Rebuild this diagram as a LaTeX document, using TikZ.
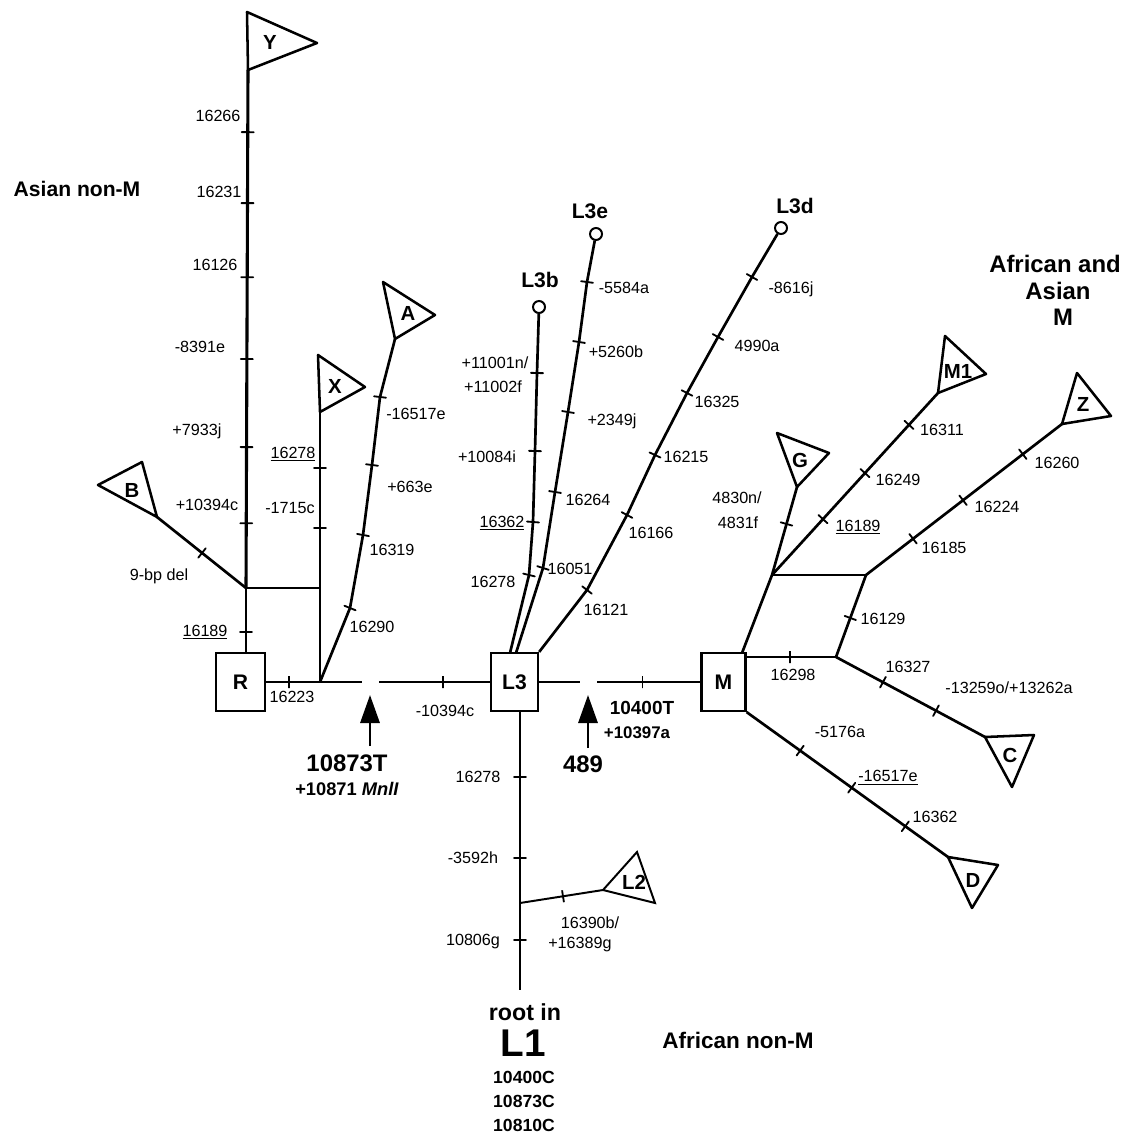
\documentclass[tikz,border=0pt]{standalone}
\usepackage{fontspec}
\setmainfont{Liberation Sans}
\usetikzlibrary{arrows.meta}
\newcommand{\myfs}[1]{\fontsize{#1}{#1}\selectfont}
\begin{document}
\begin{tikzpicture}[x=0.025cm,y=-0.025cm,
  br/.style={line width=1.9pt, line join=round},
  trunk/.style={line width=1.4pt},
  tk/.style={sloped, draw, line width=1.3pt, shape=rectangle, inner sep=0pt, outer sep=0pt, minimum width=0pt, minimum height=0.3cm},
  lab/.style={font=\myfs{11.5}, inner sep=0pt, text depth=0pt},
  box/.style={draw, line width=1.5pt, minimum height=1.45cm, inner sep=0pt, font=\bfseries\myfs{15}},
  tri/.style={line width=1.8pt, line join=round},
  tlab/.style={font=\bfseries\myfs{14.5}, inner sep=0pt, text depth=0pt},
  hlab/.style={font=\bfseries\myfs{15}, inner sep=0pt, text depth=0pt},
  blab/.style={font=\bfseries\myfs{17}, inner sep=0pt, text depth=0pt},
  arr/.style={line width=1.8pt, -{Triangle[length=0.7cm,width=0.48cm]}},
  leaf/.style={circle, draw, line width=1.4pt, minimum size=0.3cm, inner sep=0pt},
]
\useasboundingbox (0,0) rectangle (1134,1136);
\fill[white] (0,0) rectangle (1134,1136);

% ---------- boxes ----------
\node[box, minimum width=1.22cm] (R) at (240.5,682) {R};
\node[box, minimum width=1.18cm] (L3) at (514.5,682) {L3};
\node[box, minimum width=1.1cm] (M) at (723.5,682) {M};

% ---------- coordinates ----------
\coordinate (Rtop) at (246,653);
\coordinate (Jy) at (246,588);
\coordinate (Yb) at (248,70);
\coordinate (Jx) at (320,682);
\coordinate (Jxy) at (320,588);
\coordinate (Xb) at (320,412);
\coordinate (Bb) at (157,517);
\coordinate (G1a) at (362,682);
\coordinate (G1b) at (379,682);
\coordinate (G2a) at (580,682);
\coordinate (G2b) at (597,682);
\coordinate (a1) at (350,608);
\coordinate (a2) at (363,535);
\coordinate (a3) at (372,465);
\coordinate (a4) at (380,397);
\coordinate (Ab) at (395,339);
\coordinate (b0) at (510,653);
\coordinate (b1) at (529,575);
\coordinate (b2) at (533,522);
\coordinate (b3) at (535,451);
\coordinate (b4) at (537,373);
\coordinate (e0) at (516,653);
\coordinate (e1) at (543,568);
\coordinate (e2) at (555,492);
\coordinate (e3) at (568,412);
\coordinate (e4) at (579,342);
\coordinate (e5) at (587,282);
\coordinate (d1) at (587,590);
\coordinate (d2) at (627,515);
\coordinate (d3) at (655,455);
\coordinate (d4) at (687,393);
\coordinate (d5) at (718,337);
\coordinate (d6) at (752,277);
\coordinate (L3s) at (520,711);
\coordinate (Jl2) at (520,903);
\coordinate (Lend) at (520,990);
\coordinate (L2v) at (603,890);
\coordinate (Mne) at (742,653);
\coordinate (Me1) at (745,657);
\coordinate (Ju) at (772,575);
\coordinate (Jr) at (866,575);
\coordinate (Jl) at (836,657);
\coordinate (Gb) at (797,487);
\coordinate (M1b) at (938,393);
\coordinate (Zb) at (1062,424);
\coordinate (Cv) at (985,737);
\coordinate (Dv) at (948,857);

% ---------- leaf circles ----------
\node[leaf] (cL3b) at (539,307) {};
\node[leaf] (cL3e) at (596,234) {};
\node[leaf] (cL3d) at (781,228) {};

% ---------- trunk ----------
\draw[trunk] (R.east) -- node[tk,pos=0.237]{} (G1a);
\draw[trunk] (G1b) -- node[tk,pos=0.574]{} (L3.west);
\draw[trunk] (L3.east) -- (G2a);
\draw[trunk] (G2b) -- node[tk,pos=0.44]{} (M.west);

% ---------- R side ----------
\draw[br] (Rtop) -- node[tk,pos=0.328]{} (Jy);
\draw[br, line width=2.2pt] (Jy) -- node[tk,pos=0.125]{} node[tk,pos=0.272]{} node[tk,pos=0.442]{}
  node[tk,pos=0.600]{} node[tk,pos=0.743]{} node[tk,pos=0.880]{} (Yb);
\draw[trunk] (Jy) -- (Jxy);
\draw[br] (Jy) -- node[tk,pos=0.494]{} (Bb);
\draw[br] (Jx) -- (Jxy) -- node[tk,pos=0.341]{} node[tk,pos=0.682]{} (Xb);
\draw[br] (Jx) -- node[tk,pos=1]{} (a1) -- node[tk,pos=1]{} (a2) -- node[tk,pos=1]{} (a3)
  -- node[tk,pos=1]{} (a4) -- (Ab);

% ---------- L3 branches ----------
\draw[br] (b0) -- node[tk,pos=1]{} (b1) -- node[tk,pos=1]{} (b2) -- node[tk,pos=1]{} (b3)
  -- node[tk,pos=1]{} (b4) -- (cL3b);
\draw[br] (e0) -- node[tk,pos=1]{} (e1) -- node[tk,pos=1]{} (e2) -- node[tk,pos=1]{} (e3)
  -- node[tk,pos=1]{} (e4) -- node[tk,pos=1]{} (e5) -- (cL3e);
\draw[br] (L3.north east) -- node[tk,pos=1]{} (d1) -- node[tk,pos=1]{} (d2) -- node[tk,pos=1]{} (d3)
  -- node[tk,pos=1]{} (d4) -- node[tk,pos=1]{} (d5) -- node[tk,pos=1]{} (d6) -- (cL3d);
\draw[br] (L3s) -- node[tk,pos=0.344]{} node[tk,pos=0.766]{} (Jl2);
\draw[br] (Jl2) -- node[tk,pos=0.425]{} (Lend);
\draw[trunk] (Jl2) -- node[tk,pos=0.518]{} (L2v);

% ---------- M branches ----------
\draw[br] (Mne) -- (Ju);
\draw[br] (Ju) -- node[tk,pos=0.58]{} (Gb);
\draw[br] (Ju) -- node[tk,pos=0.307]{} node[tk,pos=0.56]{} node[tk,pos=0.825]{} (M1b);
\draw[trunk] (Ju) -- (Jr);
\draw[br] (Jr) -- node[tk,pos=0.24]{} node[tk,pos=0.495]{} node[tk,pos=0.80]{} (Zb);
\draw[br] (Jr) -- node[tk,pos=0.524]{} (Jl);
\draw[trunk] (Me1) -- node[tk,pos=0.495]{} (Jl);
\draw[br] (Jl) -- node[tk,pos=0.315]{} node[tk,pos=0.671]{} (Cv);
\draw[br] (M.south east) -- node[tk,pos=0.266]{} node[tk,pos=0.522]{} node[tk,pos=0.788]{} (Dv);

% ---------- triangles ----------
\draw[tri] (247,12) -- (317,43) -- (Yb) -- cycle;
\draw[tri] (318,355) -- (365,387) -- (Xb) -- cycle;
\draw[tri] (383,282) -- (435,315) -- (Ab) -- cycle;
\draw[tri] (98,485) -- (142,462) -- (Bb) -- cycle;
\draw[tri] (777,433) -- (829,453) -- (Gb) -- cycle;
\draw[tri] (945,336) -- (986,374) -- (M1b) -- cycle;
\draw[tri] (1077,373) -- (1111,416) -- (Zb) -- cycle;
\draw[tri] (Cv) -- (1034,735) -- (1012,787) -- cycle;
\draw[tri] (Dv) -- (998,865) -- (972,908) -- cycle;
\draw[trunk] (L2v) -- (637,852) -- (655,903) -- cycle;

\node[tlab] (tY) at (270,42) {Y};
\node[tlab] (tX) at (335,386) {X};
\node[tlab] (tA) at (408,313) {A};
\node[tlab] (tB) at (132,490) {B};
\node[tlab] (tG) at (800,460) {G};
\node[tlab] (tM1) at (958,371) {M1};
\node[tlab] (tZ) at (1083,404) {Z};
\node[tlab] (tC) at (1010,755) {C};
\node[tlab] (tD) at (973,880) {D};
\node[tlab] (tL2) at (634,882) {L2};

\node[hlab] (nL3b) at (540,280) {L3b};
\node[hlab] (nL3e) at (590,211) {L3e};
\node[hlab] (nL3d) at (795,206) {L3d};

% ---------- arrows ----------
\coordinate (ar1s) at (370,746);
\coordinate (ar1e) at (370,695);
\coordinate (ar2s) at (588,748);
\coordinate (ar2e) at (588,695);
\draw[arr] (ar1s) -- (ar1e);
\draw[arr] (ar2s) -- (ar2e);

% ---------- small labels ----------
\node[lab] (l1) at (218,116) {16266};
\node[lab] (l2) at (219,192) {16231};
\node[lab] (l3) at (215,265) {16126};
\node[lab] (l4) at (200,347) {-8391e};
\node[lab] (l5) at (197,430) {+7933j};
\node[lab] (l6) at (207,505) {+10394c};
\node[lab] (l7) at (159,575) {9-bp del};
\node[lab] (l8) at (205,631) {\underline{16189}};
\node[lab] (l9) at (293,453) {\underline{16278}};
\node[lab] (l10) at (290,508) {-1715c};
\node[lab] (l11) at (292,697) {16223};
\node[lab] (l12) at (416,414) {-16517e};
\node[lab] (l13) at (410,487) {+663e};
\node[lab] (l14) at (392,550) {16319};
\node[lab] (l15) at (372,627) {16290};
\node[lab] (l16) at (445,711) {-10394c};
\node[lab] (l17) at (495,363) {+11001n/};
\node[lab] (l18) at (493,387) {+11002f};
\node[lab] (l19) at (487,457) {+10084i};
\node[lab] (l20) at (502,522) {\underline{16362}};
\node[lab] (l21) at (493,582) {16278};
\node[lab] (l22) at (624,288) {-5584a};
\node[lab] (l23) at (616,352) {+5260b};
\node[lab] (l24) at (612,420) {+2349j};
\node[lab] (l25) at (588,500) {16264};
\node[lab] (l26) at (570,569) {16051};
\node[lab] (l27) at (606,610) {16121};
\node[lab] (l28) at (651,533) {16166};
\node[lab] (l29) at (686,457) {16215};
\node[lab] (l30) at (717,402) {16325};
\node[lab] (l31) at (757,346) {4990a};
\node[lab] (l32) at (791,288) {-8616j};
\node[lab] (l33) at (737,498) {4830n/};
\node[lab] (l34) at (738,523) {4831f};
\node[lab] (l35) at (858,526) {\underline{16189}};
\node[lab] (l36) at (898,480) {16249};
\node[lab] (l37) at (942,430) {16311};
\node[lab] (l38) at (944,548) {16185};
\node[lab] (l39) at (997,507) {16224};
\node[lab] (l40) at (1057,463) {16260};
\node[lab] (l41) at (883,619) {16129};
\node[lab] (l42) at (793,675) {16298};
\node[lab] (l43) at (908,667) {16327};
\node[lab] (l44) at (1009,688) {-13259o/+13262a};
\node[lab] (l45) at (840,732) {-5176a};
\node[lab] (l46) at (888,776) {\underline{-16517e}};
\node[lab] (l47) at (935,817) {16362};
\node[lab] (l48) at (478,777) {16278};
\node[lab] (l49) at (473,858) {-3592h};
\node[lab] (l50) at (473,940) {10806g};
\node[lab] (l51) at (590,923) {16390b/};
\node[lab] (l52) at (580,943) {+16389g};

% ---------- bold labels ----------
\node[blab] (m1) at (347,763) {10873T};
\node[font=\bfseries\myfs{13}, inner sep=0pt, text depth=0pt] (m2) at (347,789) {+10871 \textit{MnlI}};
\node[blab] (m3) at (583,764) {489};
\node[font=\bfseries\myfs{13.5}, inner sep=0pt, text depth=0pt] (m4) at (642,708) {10400T};
\node[font=\bfseries\myfs{12}, inner sep=0pt, text depth=0pt] (m5) at (637,733) {+10397a};

\node[font=\bfseries\myfs{16.5}, inner sep=0pt, text depth=0pt] (r1) at (525,1012) {root in};
\node[font=\bfseries\myfs{27.5}, inner sep=0pt, text depth=0pt] (r2) at (523,1043) {L1};
\node[font=\bfseries\myfs{12.5}, inner sep=0pt, text depth=0pt] (r3) at (524,1077) {10400C};
\node[font=\bfseries\myfs{12.5}, inner sep=0pt, text depth=0pt] (r4) at (524,1101) {10873C};
\node[font=\bfseries\myfs{12.5}, inner sep=0pt, text depth=0pt] (r5) at (524,1125) {10810C};

\node[font=\bfseries\myfs{15}, inner sep=0pt, text depth=0pt] (g1) at (77,189) {Asian non-M};
\node[font=\bfseries\myfs{16}, inner sep=0pt, text depth=0pt] (g2) at (738,1040) {African non-M};
\node[font=\bfseries\myfs{17}, inner sep=0pt, text depth=0pt] (g3) at (1055,264) {African and};
\node[font=\bfseries\myfs{17}, inner sep=0pt, text depth=0pt] (g4) at (1058,291) {Asian};
\node[font=\bfseries\myfs{17}, inner sep=0pt, text depth=0pt] (g5) at (1063,317) {M};

\end{tikzpicture}
\end{document}
